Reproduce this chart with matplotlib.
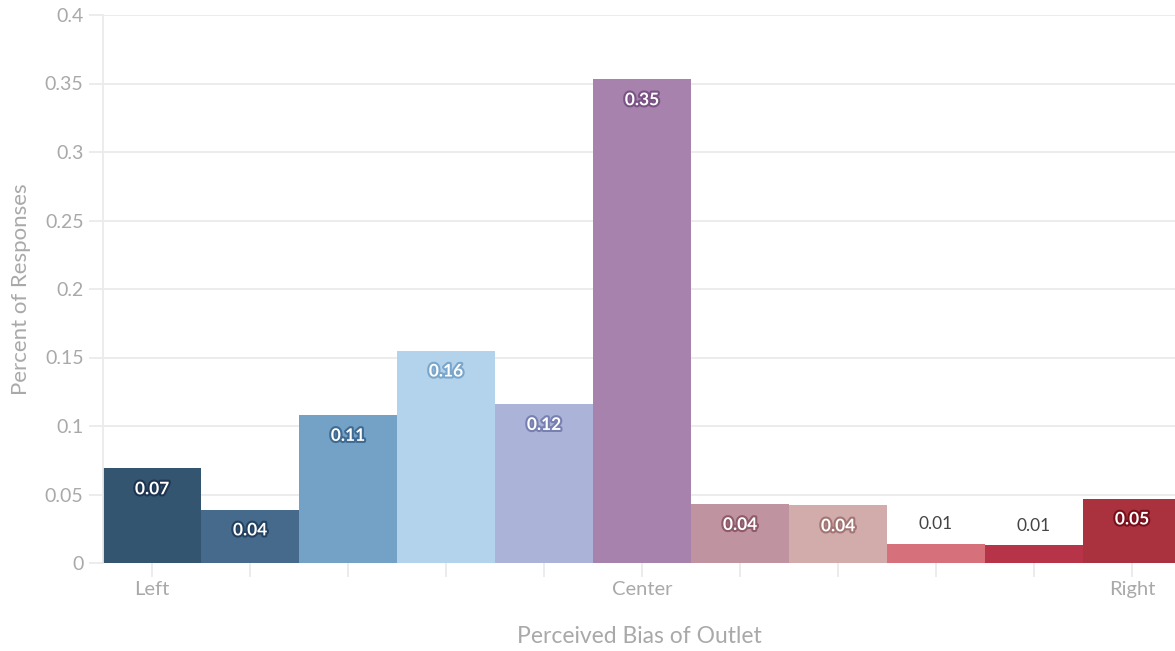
import matplotlib
matplotlib.use("Agg")
import matplotlib.pyplot as plt
import matplotlib.patheffects as pe

positions = list(range(11))
values = [0.069, 0.039, 0.108, 0.155, 0.116, 0.353, 0.043, 0.042, 0.014, 0.013, 0.047]
labels = ["0.07", "0.04", "0.11", "0.16", "0.12", "0.35", "0.04", "0.04", "0.01", "0.01", "0.05"]
colors = ["#34556f", "#466a8b", "#74a1c6", "#b3d3ec", "#abb3d8", "#a682ad",
          "#bf939f", "#d2abab", "#d6707a", "#b73347", "#aa323e"]
halo = ["#1d3550", "#22405f", "#3f6a92", "#7aa6cb", "#7780b0", "#7a5285",
        "#8f5a6a", "#a27474", None, None, "#7a0f1c"]
tick_labels = {0: "Left", 5: "Center", 10: "Right"}
yticks = [0, 0.05, 0.1, 0.15, 0.2, 0.25, 0.3, 0.35, 0.4]
ytick_labels = ["0", "0.05", "0.1", "0.15", "0.2", "0.25", "0.3", "0.35", "0.4"]

plt.rcParams['font.family'] = ['Lato', 'DejaVu Sans']
fig = plt.figure(figsize=(11.75, 6.51), dpi=100)
ax = fig.add_axes([103/1175, 88/651, 1 - 103/1175, (563-15)/651])

ax.bar(positions, values, width=1.0, color=colors, edgecolor='none', zorder=2)
ax.set_xlim(-0.5, (1175-103)/98 - 0.5)
ax.set_ylim(0, 0.4)

ax.set_yticks(yticks)
ax.set_yticklabels(ytick_labels)
ax.set_xticks(positions)
ax.set_xticklabels([tick_labels.get(p, "") for p in positions])

ax.grid(axis='y', color='#ebebeb', linewidth=1.3, zorder=0)
ax.set_axisbelow(True)
for s in ['top', 'right', 'bottom']:
    ax.spines[s].set_visible(False)
ax.spines['left'].set_color('#ebebeb')
ax.spines['left'].set_linewidth(1.3)
ax.tick_params(axis='y', length=10, color='#ebebeb', width=1.3, labelsize=14, labelcolor='#a9a9a9', pad=4)
ax.tick_params(axis='x', length=10, color='#ebebeb', width=1.3, labelsize=14.5, labelcolor='#a9a9a9', pad=3)

ax.set_xlabel("Perceived Bias of Outlet", fontsize=16.5, color='#a9a9a9', labelpad=20)
ax.set_ylabel("Percent of Responses", fontsize=16, color='#a9a9a9', labelpad=10)

for p, v, lab, h in zip(positions, values, labels, halo):
    if h is None:
        ax.annotate(lab, (p, v), xytext=(0, 14), textcoords='offset points',
                    ha='center', va='center', fontsize=12.5, color='#444444', zorder=3)
    else:
        ax.annotate(lab, (p, v), xytext=(0, -15), textcoords='offset points',
                    ha='center', va='center', fontsize=12.5, color='white', fontweight='bold',
                    path_effects=[pe.withStroke(linewidth=3, foreground=h)], zorder=3)

fig.savefig("out.png", dpi=100)
